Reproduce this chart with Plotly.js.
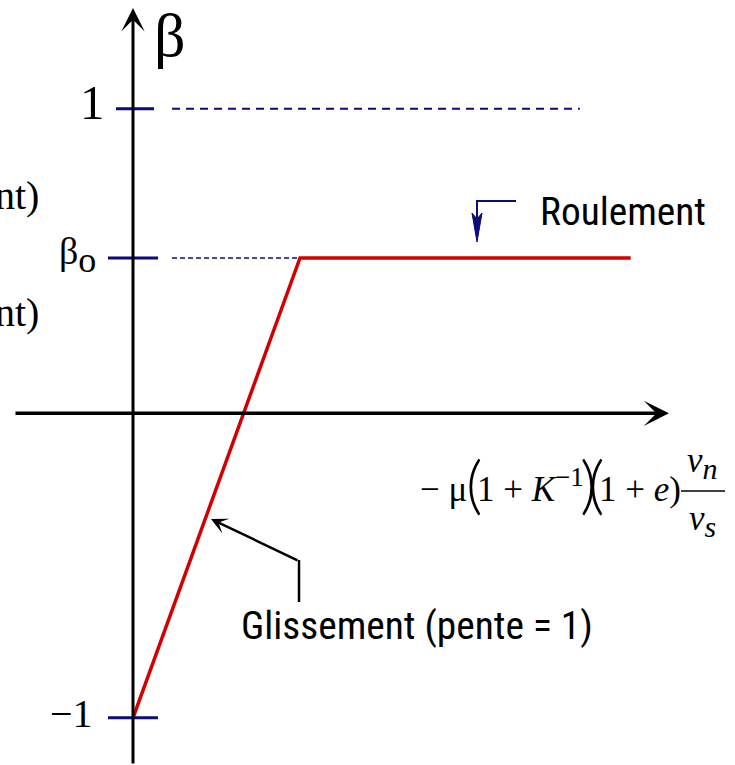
<!DOCTYPE html>
<html>
<head>
<meta charset="utf-8">
<script src="https://cdn.plot.ly/plotly-3.0.1.min.js"></script>
<style>
  html, body { margin: 0; padding: 0; background: #ffffff; }
  #chart { width: 735px; height: 765px; }
</style>
</head>
<body>
<div id="chart"></div>
<script>
// Transition between sliding (glissement) and rolling (roulement) regimes.
const beta0 = 0.51;                       // rolling plateau value βo
const tickValues = [1, beta0, -1];        // marked levels on the β axis
const tickLabels = ['1', 'β<sub><span style="font-size:36px">o</span></sub>', '−1'];

// Red response curve: slope-1 sliding branch, then the flat rolling plateau
const curveX = [0, 1 + beta0, 4.5];
const curveY = [-1, beta0, beta0];

// Dashed reference levels
const upperLevelX = [0.353, 4.04];
const upperLevelY = [1, 1];
const plateauRefX = [0.353, 1 + beta0];
const plateauRefY = [beta0, beta0];

const W = 735, H = 765;
const NAVY = '#0b0b7a';
const RED = '#d40000';
const SERIF = 'Liberation Serif, Times New Roman, serif';
const THIN = 'Lato, Liberation Serif, serif';

// pick the first condensed sans face that is actually installed
function pickNarrow() {
  const probe = document.createElement('canvas').getContext('2d');
  const sample = 'Roulement Glissement';
  probe.font = '40px monospace';
  const base = probe.measureText(sample).width;
  const names = ['Liberation Sans Narrow', 'Arial Narrow', 'Roboto Condensed',
                 'Noto Sans Condensed', 'Noto Sans SemiCondensed', 'DejaVu Sans Condensed',
                 'Open Sans Condensed'];
  for (const n of names) {
    probe.font = `40px "${n}", monospace`;
    if (Math.abs(probe.measureText(sample).width - base) > 0.5) return n;
  }
  return 'Liberation Sans';
}
const NARROW_FACE = pickNarrow();
const NARROW = `${NARROW_FACE}, Liberation Sans, sans-serif`;

// size the narrow label font so that "Roulement" spans about 166 px
function narrowSize() {
  const probe = document.createElement('canvas').getContext('2d');
  probe.font = `42px "${NARROW_FACE}", sans-serif`;
  const w = probe.measureText('Roulement').width;
  return Math.max(34, Math.min(44, 42 * 166 / w));
}
const NSIZE = narrowSize();

// page-pixel helpers for labels and callouts (margins are zero, so paper == page)
const PX = p => p / W;
const PY = p => 1 - p / H;

function label(text, x, y, font, extra) {
  return Object.assign({
    text: text, x: PX(x), y: PY(y), xref: 'paper', yref: 'paper',
    showarrow: false, borderpad: 0, borderwidth: 0,
    font: Object.assign({ family: SERIF, color: '#000000' }, font)
  }, extra || {});
}

const traces = [
  { x: upperLevelX, y: upperLevelY, mode: 'lines', hoverinfo: 'skip',
    line: { color: NAVY, width: 2, dash: '8px,6px' } },
  { x: plateauRefX, y: plateauRefY, mode: 'lines', hoverinfo: 'skip',
    line: { color: NAVY, width: 1.5, dash: '5px,3px' } },
  { x: curveX, y: curveY, mode: 'lines', hoverinfo: 'skip',
    line: { color: RED, width: 3.5 } }
];

// short navy tick marks across the β axis
const tickHalf = [[-0.154, 0.19], [-0.226, 0.226], [-0.226, 0.226]];
const shapes = tickValues.map((v, i) => ({
  type: 'line', xref: 'x', yref: 'y', x0: tickHalf[i][0], x1: tickHalf[i][1], y0: v, y1: v,
  line: { color: NAVY, width: 3 }
}));

// glissement callout: vertical leader below the arrow
shapes.push({ type: 'line', xref: 'paper', yref: 'paper',
  x0: PX(299), x1: PX(299), y0: PY(602), y1: PY(560), line: { color: '#000', width: 2.5 } });
// fraction bar of the abscissa label
shapes.push({ type: 'line', xref: 'paper', yref: 'paper',
  x0: PX(681), x1: PX(725), y0: PY(491), y1: PY(491), line: { color: '#000', width: 1.5 } });
// roulement callout: bent navy leader with a slim arrowhead
shapes.push({ type: 'path', xref: 'paper', yref: 'paper',
  path: `M${PX(516)},${PY(201)} L${PX(477)},${PY(201)} L${PX(477)},${PY(222)}`,
  line: { color: NAVY, width: 2 } });
shapes.push({ type: 'path', xref: 'paper', yref: 'paper',
  path: `M${PX(477)},${PY(242)} L${PX(472)},${PY(213)} L${PX(477)},${PY(219)} L${PX(482)},${PY(213)} Z`,
  fillcolor: NAVY, line: { color: NAVY, width: 1 } });

const annotations = [
  // axes with arrowheads
  { x: 4.846, y: 0, xref: 'x', yref: 'y', ax: -655, ay: 0, axref: 'pixel', ayref: 'pixel',
    text: '', showarrow: true, arrowhead: 3, arrowsize: 1.2, arrowwidth: 3.5, arrowcolor: '#000',
    standoff: 0, startstandoff: 0 },
  { x: 0, y: 1.331, xref: 'x', yref: 'y', ax: 0, ay: 800, axref: 'pixel', ayref: 'pixel',
    text: '', showarrow: true, arrowhead: 3, arrowsize: 1.3, arrowwidth: 3, arrowcolor: '#000',
    standoff: 0, startstandoff: 0 },
  // glissement arrow onto the sliding branch
  { x: PX(211), y: PY(519), xref: 'paper', yref: 'paper', ax: 88, ay: 42,
    text: '', showarrow: true, arrowhead: 3, arrowsize: 1.1, arrowwidth: 2.5, arrowcolor: '#000',
    standoff: 0, startstandoff: 0 },

  // axis name
  label('β', 154, 35, { size: 62 }, { xanchor: 'left', yanchor: 'middle' }),

  // tick labels
  label(tickLabels[0], 105, 102.5, { size: 49 }, { xanchor: 'right', yanchor: 'middle' }),
  label(tickLabels[1], 96, 230, { size: 38 }, { xanchor: 'right', yanchor: 'top' }),
  label(tickLabels[2], 92.5, 713.5, { size: 40 }, { xanchor: 'right', yanchor: 'middle' }),

  // side labels running off the left edge
  label('nt)', 39, 195.5, { size: 40 }, { xanchor: 'right', yanchor: 'middle' }),
  label('nt)', 39, 312.5, { size: 40 }, { xanchor: 'right', yanchor: 'middle' }),

  // regime names
  label('Roulement', 540, 211.5, { size: NSIZE, family: NARROW }, { xanchor: 'left', yanchor: 'middle' }),
  label('Glissement (pente = 1)', 241, 625.5, { size: NSIZE, family: NARROW }, { xanchor: 'left', yanchor: 'middle' }),

  // abscissa: −μ(1 + K⁻¹)(1 + e) v_n / v_s
  label('− μ', 420, 508.6, { size: 35 }, { xanchor: 'left', yanchor: 'bottom' }),
  label('(', 466, 482, { size: 64, family: THIN, weight: 300 }, { xanchor: 'left', yanchor: 'middle' }),
  label('1 + <i>K</i><sup><span style="font-size:27px">−1</span></sup>', 477, 508.6, { size: 35 }, { xanchor: 'left', yanchor: 'bottom' }),
  label(')', 580, 482, { size: 64, family: THIN, weight: 300 }, { xanchor: 'left', yanchor: 'middle' }),
  label('(', 588, 482, { size: 64, family: THIN, weight: 300 }, { xanchor: 'left', yanchor: 'middle' }),
  label('1 + <i>e</i>)', 599, 508.6, { size: 35 }, { xanchor: 'left', yanchor: 'bottom' }),
  label('<i>v</i><sub><span style="font-size:30px"><i>n</i></span></sub>', 702, 441, { size: 35 }, { xanchor: 'center', yanchor: 'top' }),
  label('<i>v</i><sub><span style="font-size:30px"><i>s</i></span></sub>', 702, 499, { size: 35 }, { xanchor: 'center', yanchor: 'top' })
];

const layout = {
  width: W, height: H,
  margin: { l: 0, r: 0, t: 0, b: 0 },
  paper_bgcolor: '#ffffff', plot_bgcolor: '#ffffff',
  showlegend: false,
  xaxis: { range: [-1.2025, 5.443], visible: false, fixedrange: true },
  yaxis: { range: [-1.155, 1.3573], visible: false, fixedrange: true },
  shapes: shapes,
  annotations: annotations
};

Plotly.newPlot('chart', traces, layout, { staticPlot: true, displayModeBar: false });
</script>
</body>
</html>
